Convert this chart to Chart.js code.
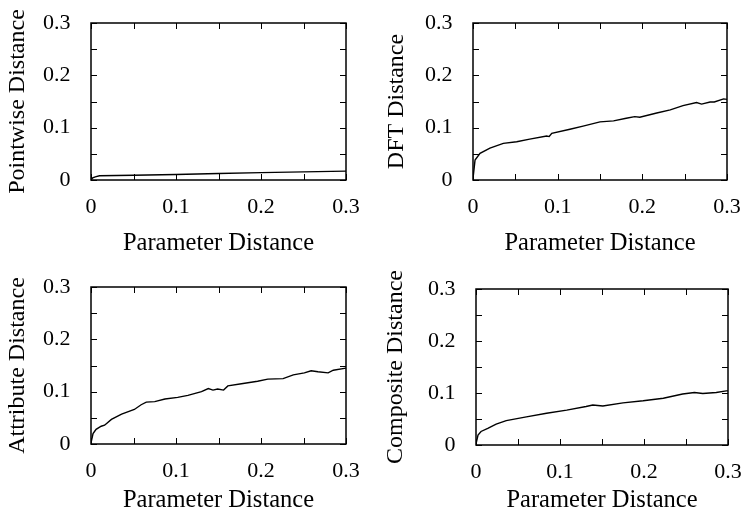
<!DOCTYPE html>
<html>
<head>
<meta charset="utf-8">
<script src="https://cdn.jsdelivr.net/npm/chart.js@4.4.1/dist/chart.umd.min.js"></script>
<style>
  html, body { margin: 0; padding: 0; background: #fff; }
  #wrap { position: relative; width: 742px; height: 513px; background: #fff; }
  canvas { position: absolute; }
</style>
</head>
<body>
<div id="wrap">
  <canvas id="c1" width="371" height="256" style="left:0px;top:0px"></canvas>
  <canvas id="c2" width="371" height="256" style="left:371px;top:0px"></canvas>
  <canvas id="c3" width="371" height="257" style="left:0px;top:256px"></canvas>
  <canvas id="c4" width="371" height="257" style="left:371px;top:256px"></canvas>
</div>
<script>
// ---- data ----
const xTitle = 'Parameter Distance';
const yTitles = ['Pointwise Distance', 'DFT Distance', 'Attribute Distance', 'Composite Distance'];
const tickValues = [0, 0.1, 0.2, 0.3];
const tickLabels = ['0', '0.1', '0.2', '0.3'];
const minorTicks = [0, 0.05, 0.1, 0.15, 0.2, 0.25, 0.3];

const pointwiseX = [0, 0.002, 0.005, 0.01, 0.03, 0.05, 0.1, 0.15, 0.2, 0.25, 0.3];
const pointwiseY = [0, 0.004, 0.006, 0.008, 0.0085, 0.009, 0.0105, 0.0125, 0.014, 0.0155, 0.017];

const dftX = [0, 0.0024, 0.0083, 0.02, 0.0358, 0.0516, 0.067, 0.087, 0.09, 0.093, 0.1145, 0.13, 0.15, 0.166, 0.181, 0.191, 0.197, 0.217, 0.233, 0.248, 0.264, 0.27, 0.28, 0.285, 0.296, 0.3];
const dftY = [0.003, 0.038, 0.051, 0.061, 0.070, 0.073, 0.078, 0.084, 0.083, 0.089, 0.097, 0.103, 0.111, 0.113, 0.118, 0.121, 0.120, 0.128, 0.134, 0.142, 0.148, 0.145, 0.149, 0.149, 0.155, 0.154];

const attrX = [0, 0.0024, 0.006, 0.012, 0.016, 0.024, 0.036, 0.051, 0.059, 0.065, 0.075, 0.087, 0.102, 0.114, 0.130, 0.138, 0.1435, 0.149, 0.156, 0.161, 0.177, 0.196, 0.208, 0.226, 0.238, 0.251, 0.259, 0.267, 0.279, 0.285, 0.3];
const attrY = [0.002, 0.020, 0.028, 0.034, 0.036, 0.047, 0.057, 0.066, 0.075, 0.080, 0.081, 0.086, 0.089, 0.093, 0.100, 0.106, 0.103, 0.105, 0.103, 0.111, 0.115, 0.120, 0.124, 0.125, 0.132, 0.136, 0.140, 0.138, 0.136, 0.141, 0.145];

const compX = [0, 0.0024, 0.006, 0.014, 0.024, 0.036, 0.060, 0.084, 0.108, 0.131, 0.139, 0.151, 0.175, 0.199, 0.223, 0.246, 0.260, 0.270, 0.286, 0.298, 0.3];
const compY = [0.002, 0.019, 0.026, 0.032, 0.040, 0.047, 0.054, 0.061, 0.067, 0.074, 0.077, 0.075, 0.081, 0.085, 0.090, 0.098, 0.101, 0.099, 0.101, 0.104, 0.104];

// ---- layout per panel ----
const panels = [
  { id: 'c1', xs: pointwiseX, ys: pointwiseY, title: yTitles[0], top: 23, right: 25, yW: 91,  xH: 76, yTitlePad: 3 },
  { id: 'c2', xs: dftX,       ys: dftY,       title: yTitles[1], top: 23, right: 15, yW: 102, xH: 76, yTitlePad: 11.5 },
  { id: 'c3', xs: attrX,      ys: attrY,      title: yTitles[2], top: 31, right: 25, yW: 91,  xH: 69, yTitlePad: 3.5 },
  { id: 'c4', xs: compX,      ys: compY,      title: yTitles[3], top: 33, right: 14, yW: 105, xH: 68, yTitlePad: 10.5 }
];

Chart.defaults.font.family = "'Liberation Serif', 'Times New Roman', serif";
Chart.defaults.color = '#000';

const frameTicks = {
  id: 'frameTicks',
  afterDatasetsDraw(chart) {
    const { ctx, chartArea: a, scales: { x, y } } = chart;
    ctx.save();
    ctx.strokeStyle = '#000';
    ctx.lineWidth = 1;
    const L = 6;
    ctx.beginPath();
    minorTicks.forEach(v => {
      const px = Math.round(x.getPixelForValue(v)) + 0.5;
      ctx.moveTo(px, a.bottom); ctx.lineTo(px, a.bottom - L);
      ctx.moveTo(px, a.top); ctx.lineTo(px, a.top + L);
      const py = Math.round(y.getPixelForValue(v)) + 0.5;
      ctx.moveTo(a.left, py); ctx.lineTo(a.left + L, py);
      ctx.moveTo(a.right, py); ctx.lineTo(a.right - L, py);
    });
    ctx.stroke();
    ctx.lineWidth = 1.5;
    ctx.strokeRect(a.left, a.top, a.right - a.left, a.bottom - a.top);
    ctx.restore();
  }
};

function fmtTicks(axis) {
  axis.ticks = tickValues.map(v => ({ value: v }));
}

panels.forEach(p => {
  new Chart(document.getElementById(p.id), {
    type: 'line',
    data: {
      datasets: [{
        data: p.xs.map((xv, i) => ({ x: xv, y: p.ys[i] })),
        borderColor: '#000',
        borderWidth: 1.4,
        pointRadius: 0,
        tension: 0,
        fill: false
      }]
    },
    options: {
      responsive: false,
      animation: false,
      events: [],
      layout: { padding: { left: 0, top: p.top, right: p.right, bottom: 0 } },
      plugins: { legend: { display: false }, tooltip: { enabled: false } },
      scales: {
        x: {
          type: 'linear', min: 0, max: 0.3,
          afterBuildTicks: fmtTicks,
          afterFit: a => { a.height = p.xH; a.paddingLeft = 0; a.paddingRight = 0; },
          grid: { display: false, drawTicks: false },
          border: { display: false },
          ticks: {
            font: { size: 22 }, padding: 14, maxRotation: 0,
            callback: (v) => tickLabels[tickValues.findIndex(t => Math.abs(t - v) < 1e-9)]
          },
          title: { display: true, text: xTitle, font: { size: 24.5 }, padding: { top: 0, bottom: -2 } }
        },
        y: {
          type: 'linear', min: 0, max: 0.3,
          afterBuildTicks: fmtTicks,
          afterFit: a => { a.width = p.yW; a.paddingTop = 0; a.paddingBottom = 0; },
          grid: { display: false, drawTicks: false },
          border: { display: false },
          ticks: {
            font: { size: 22 }, padding: 20.5,
            callback: (v) => tickLabels[tickValues.findIndex(t => Math.abs(t - v) < 1e-9)]
          },
          title: { display: true, text: p.title, font: { size: 24 }, padding: { top: p.yTitlePad, bottom: 0 } }
        }
      }
    },
    plugins: [frameTicks]
  });
});
</script>
</body>
</html>
